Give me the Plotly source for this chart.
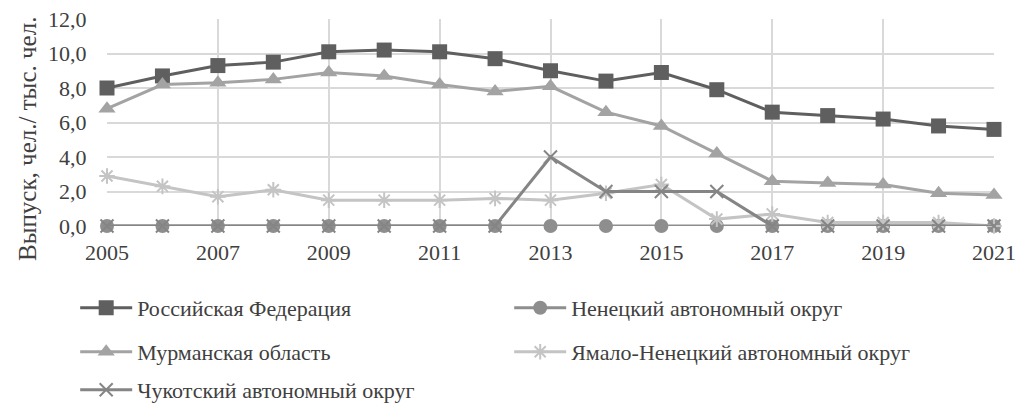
import plotly.graph_objects as go

years = list(range(2005, 2022))
rf = [8.0, 8.7, 9.3, 9.5, 10.1, 10.2, 10.1, 9.7, 9.0, 8.4, 8.9, 7.9, 6.6, 6.4, 6.2, 5.8, 5.6]
nenets = [0.0] * 17
murmansk = [6.8, 8.2, 8.3, 8.5, 8.9, 8.7, 8.2, 7.8, 8.1, 6.6, 5.8, 4.2, 2.6, 2.5, 2.4, 1.9, 1.8]
yamal = [2.9, 2.3, 1.7, 2.1, 1.5, 1.5, 1.5, 1.6, 1.5, 1.9, 2.4, 0.4, 0.7, 0.2, 0.2, 0.2, 0.0]
chukotka = [0.0, 0.0, 0.0, 0.0, 0.0, 0.0, 0.0, 0.0, 4.0, 2.0, 2.0, 2.0, 0.0, 0.0, 0.0, 0.0, 0.0]

names = ["Российская Федерация", "Ненецкий автономный округ", "Мурманская область",
         "Ямало-Ненецкий автономный округ", "Чукотский автономный округ"]
yticks = [0, 2, 4, 6, 8, 10, 12]
ytick_labels = ["0,0", "2,0", "4,0", "6,0", "8,0", "10,0", "12,0"]
y_title = "Выпуск, чел./ тыс. чел."

FONT = "Liberation Serif"

series = [
    (names[0], rf, "#5f5f5f", "square", 15, "legend"),
    (names[1], nenets, "#8e8e8e", "circle", 14, "legend"),
    (names[2], murmansk, "#a3a3a3", "triangle-up", 15, "legend2"),
    (names[3], yamal, "#c4c4c4", "asterisk-open", 13, "legend2"),
    (names[4], chukotka, "#858585", "x-thin-open", 13, "legend3"),
]

fig = go.Figure()
for name, vals, color, sym, size, lg in series:
    open_sym = sym.endswith("open")
    fig.add_trace(go.Scatter(
        x=years, y=vals, name=name, mode="lines+markers",
        line=dict(color=color, width=3),
        marker=dict(symbol=sym, size=size, color=color,
                    line=dict(color=color, width=2 if open_sym else 0)),
        cliponaxis=False, legend=lg,
    ))

leg_common = dict(orientation="h", xref="container", yref="container",
                  xanchor="left", yanchor="middle",
                  font=dict(family=FONT, size=22, color="#404040"),
                  entrywidth=367, entrywidthmode="pixels",
                  bgcolor="rgba(0,0,0,0)", itemwidth=52)

fig.update_layout(
    width=1016, height=405,
    margin=dict(l=107, r=22, t=19, b=179, autoexpand=False),
    paper_bgcolor="white", plot_bgcolor="white",
    font=dict(family=FONT, size=22, color="#404040"),
    xaxis=dict(range=[2005, 2021], tickmode="array", tickvals=list(range(2005, 2022, 2)),
               showgrid=True, gridcolor="#d9d9d9", gridwidth=1.5, zeroline=False,
               ticks="outside", ticklen=7, tickcolor="rgba(0,0,0,0)",
               tickfont=dict(family=FONT, size=22, color="#404040"),
               showline=False),
    yaxis=dict(range=[0, 12], tickmode="array", tickvals=yticks, ticktext=ytick_labels,
               showgrid=True, gridcolor="#d9d9d9", gridwidth=1.5, zeroline=False,
               ticks="outside", ticklen=15, tickcolor="rgba(0,0,0,0)",
               tickfont=dict(family=FONT, size=22, color="#404040")),
    annotations=[dict(text=y_title, textangle=-90, showarrow=False,
                      xref="paper", yref="paper",
                      x=(27 - 107) / 887, y=(226 - 139) / 207,
                      xanchor="center", yanchor="middle",
                      font=dict(family=FONT, size=25, color="#404040"))],
    legend=dict(x=0.074, y=1 - 308 / 405, **leg_common),
    legend2=dict(x=0.074, y=1 - 352 / 405, **leg_common),
    legend3=dict(x=0.074, y=1 - 390 / 405, **leg_common),
    showlegend=True,
)

fig.write_html("out.html", config={"displayModeBar": False},
               post_script="document.body.style.margin='0px';")
